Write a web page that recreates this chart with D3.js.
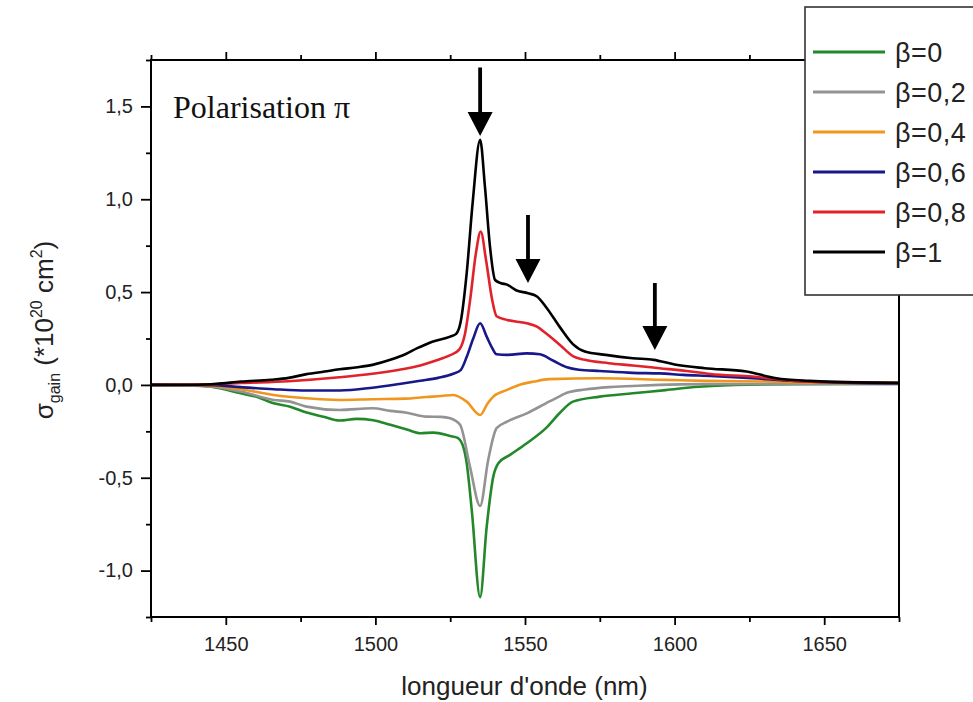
<!DOCTYPE html>
<html>
<head>
<meta charset="utf-8">
<script src="https://cdn.jsdelivr.net/npm/d3@7"></script>
<style>
  html, body { margin: 0; padding: 0; background: #fff; }
  svg { display: block; }
  .sans { font-family: "Liberation Sans", Arial, sans-serif; }
  .serif { font-family: "Liberation Serif", "Times New Roman", serif; }
</style>
</head>
<body>
<svg id="chart" class="sans" width="973" height="702"></svg>
<script>
// ---------- DATA ----------
const xMajorTicks = [1450, 1500, 1550, 1600, 1650];
const xMinorTicks = [1425, 1475, 1525, 1575, 1625, 1675];
const yMajorTicks = [-1.0, -0.5, 0.0, 0.5, 1.0, 1.5];
const yMinorTicks = [-1.25, -0.75, -0.25, 0.25, 0.75, 1.25, 1.75];

const seriesLabels = ["β=0", "β=0,2", "β=0,4", "β=0,6", "β=0,8", "β=1"];
const seriesColors = ["#23882a", "#939393", "#f0961e", "#18188a", "#e2222a", "#000000"];

// [wavelength (nm), sigma_gain (1e-20 cm^2)]
const beta0 = [[1425,0],[1440,-0.003],[1447,-0.015],[1455,-0.045],[1460,-0.063],[1466,-0.099],[1471.5,-0.117],[1477,-0.149],[1482.6,-0.171],[1488,-0.192],[1493.7,-0.183],[1499.3,-0.19],[1505,-0.215],[1510.5,-0.24],[1515,-0.26],[1519.4,-0.257],[1525,-0.275],[1527.5,-0.285],[1529.5,-0.34],[1530.5,-0.42],[1532.2,-0.673],[1535,-1.143],[1537.2,-0.763],[1539.4,-0.494],[1541.1,-0.422],[1545,-0.377],[1550.6,-0.314],[1557,-0.233],[1561.7,-0.15],[1566,-0.09],[1575,-0.063],[1586,-0.045],[1597,-0.028],[1608,-0.01],[1620,0],[1640,0.004],[1675,0.005]];
const beta02 = [[1425,0],[1445,-0.008],[1455,-0.036],[1466,-0.081],[1471.5,-0.09],[1477,-0.117],[1488,-0.135],[1499,-0.126],[1505,-0.14],[1510.5,-0.15],[1517,-0.171],[1522,-0.172],[1525,-0.18],[1528.3,-0.215],[1531.6,-0.44],[1535,-0.652],[1537.7,-0.404],[1540.5,-0.233],[1544,-0.198],[1550.6,-0.153],[1557,-0.099],[1561.7,-0.06],[1564,-0.042],[1570,-0.025],[1578,-0.012],[1586,-0.006],[1595,0],[1610,0.004],[1640,0.005],[1675,0.005]];
const beta04 = [[1425,0],[1445,-0.005],[1455,-0.023],[1466,-0.054],[1477,-0.072],[1488,-0.081],[1499,-0.077],[1510,-0.074],[1517,-0.065],[1522,-0.06],[1526,-0.054],[1530.5,-0.09],[1535,-0.162],[1537.5,-0.1],[1539.4,-0.063],[1544,-0.027],[1548,0],[1553,0.018],[1558,0.031],[1575,0.036],[1597,0.027],[1610,0.022],[1630,0.018],[1650,0.012],[1675,0.008]];
const beta06 = [[1425,0],[1445,-0.002],[1455,-0.012],[1466,-0.023],[1477,-0.03],[1488,-0.03],[1499,-0.015],[1508,0.005],[1515,0.022],[1521,0.038],[1526,0.06],[1528.5,0.08],[1530.5,0.15],[1532.7,0.25],[1535,0.332],[1537.2,0.26],[1539,0.2],[1540.5,0.165],[1544,0.162],[1550.6,0.17],[1555,0.165],[1559.5,0.13],[1564,0.095],[1568,0.082],[1575,0.075],[1586,0.065],[1595,0.062],[1603,0.054],[1612,0.048],[1626,0.036],[1640,0.022],[1656,0.012],[1675,0.008]];
const beta08 = [[1425,0],[1445,0.003],[1455,0.01],[1471,0.02],[1488,0.041],[1499,0.06],[1508,0.082],[1515,0.105],[1520,0.13],[1525,0.16],[1528,0.19],[1530,0.28],[1531.6,0.45],[1533.6,0.71],[1535.2,0.826],[1537,0.67],[1539,0.46],[1540.5,0.37],[1544,0.35],[1550.6,0.332],[1554,0.314],[1557,0.278],[1561.7,0.215],[1566,0.155],[1570,0.135],[1578,0.117],[1586,0.105],[1595,0.09],[1604,0.075],[1612,0.059],[1626,0.045],[1640,0.022],[1656,0.015],[1675,0.012]];
const beta1 = [[1425,0],[1440,0.001],[1447,0.006],[1455,0.018],[1465,0.028],[1471,0.038],[1477,0.058],[1483,0.072],[1488,0.084],[1494,0.095],[1499,0.108],[1505,0.135],[1510,0.165],[1514,0.198],[1519,0.233],[1525,0.26],[1527,0.275],[1528.5,0.34],[1530.5,0.6],[1532.5,0.98],[1535,1.32],[1536.6,1.07],[1538.3,0.745],[1540,0.565],[1542,0.548],[1544,0.54],[1547,0.51],[1551,0.494],[1554,0.476],[1557,0.42],[1561.7,0.31],[1566,0.22],[1570,0.18],[1577,0.162],[1586,0.144],[1593,0.135],[1600,0.11],[1610,0.09],[1624,0.072],[1634,0.036],[1645,0.022],[1656,0.015],[1675,0.012]];
const allSeries = [beta0, beta02, beta04, beta06, beta08, beta1];

// annotation arrows: wavelength, tail value, tip value
const arrowWavelengths = [1535, 1551, 1593.4];
const arrowTail = [1.71, 0.915, 0.549];
const arrowTip = [1.34, 0.549, 0.188];

const titleText = "Polarisation π";
const xTitle = "longueur d'onde (nm)";

// ---------- LAYOUT ----------
const svg = d3.select("#chart");
const plot = { left: 151, right: 899, top: 60, bottom: 617 };

const x = d3.scaleLinear().domain([1425, 1675]).range([plot.left, plot.right]);
const y = d3.scaleLinear().domain([-1.25, 1.75]).range([plot.bottom, plot.top]);

const fmtY = v => d3.format(".1f")(v).replace(".", ",").replace("−", "-");

// clip
svg.append("defs").append("clipPath").attr("id", "clip")
  .append("rect").attr("x", plot.left).attr("y", plot.top)
  .attr("width", plot.right - plot.left).attr("height", plot.bottom - plot.top);

// curves
const line = d3.line().x(d => x(d[0])).y(d => y(d[1])).curve(d3.curveMonotoneX);
const gCurves = svg.append("g").attr("clip-path", "url(#clip)");
allSeries.forEach((s, i) => {
  gCurves.append("path").datum(s)
    .attr("d", line)
    .attr("fill", "none")
    .attr("stroke", seriesColors[i])
    .attr("stroke-width", 2.6)
    .attr("stroke-linejoin", "round");
});

// axes
function styleAxis(g) {
  g.select(".domain").remove();
  g.attr("font-family", null);
  g.selectAll(".tick line").attr("stroke", "#000").attr("stroke-width", 1.8);
  g.selectAll("text").attr("font-size", 20).attr("fill", "#222");
}
svg.append("g").attr("transform", `translate(0,${plot.bottom})`)
  .call(d3.axisBottom(x).tickValues(xMajorTicks).tickSize(8).tickPadding(12).tickFormat(d3.format("d")))
  .call(styleAxis);
svg.append("g").attr("transform", `translate(0,${plot.bottom})`)
  .call(d3.axisBottom(x).tickValues(xMinorTicks).tickSize(5).tickFormat(""))
  .call(styleAxis);
svg.append("g").attr("transform", `translate(0,${plot.top})`)
  .call(d3.axisTop(x).tickValues(xMajorTicks).tickSize(8).tickFormat(""))
  .call(styleAxis);
svg.append("g").attr("transform", `translate(0,${plot.top})`)
  .call(d3.axisTop(x).tickValues(xMinorTicks).tickSize(5).tickFormat(""))
  .call(styleAxis);
svg.append("g").attr("transform", `translate(${plot.left},0)`)
  .call(d3.axisLeft(y).tickValues(yMajorTicks).tickSize(10).tickPadding(8).tickFormat(fmtY))
  .call(styleAxis);
svg.append("g").attr("transform", `translate(${plot.left},0)`)
  .call(d3.axisLeft(y).tickValues(yMinorTicks).tickSize(5).tickFormat(""))
  .call(styleAxis);

// frame
svg.append("rect").attr("x", plot.left).attr("y", plot.top)
  .attr("width", plot.right - plot.left).attr("height", plot.bottom - plot.top)
  .attr("fill", "none").attr("stroke", "#000").attr("stroke-width", 2);

// arrows
arrowWavelengths.forEach((w, i) => {
  const ax = x(w), yt = y(arrowTail[i]), yp = y(arrowTip[i]);
  const headLen = 24, headHalf = 12.5, shaftHalf = 1.9;
  const p = d3.path();
  p.moveTo(ax - shaftHalf, yt);
  p.lineTo(ax + shaftHalf, yt);
  p.lineTo(ax + shaftHalf, yp - headLen);
  p.lineTo(ax + headHalf, yp - headLen);
  p.lineTo(ax, yp);
  p.lineTo(ax - headHalf, yp - headLen);
  p.lineTo(ax - shaftHalf, yp - headLen);
  p.closePath();
  svg.append("path").attr("d", p.toString()).attr("fill", "#000");
});

// title in plot
svg.append("text").attr("class", "serif").attr("x", 173).attr("y", 118)
  .attr("font-size", 32).attr("fill", "#111").text(titleText);

// x title
svg.append("text").attr("x", (398 + 651) / 2).attr("y", 695)
  .attr("text-anchor", "middle").attr("font-size", 26).attr("fill", "#222").text(xTitle);

// y title
const yt = svg.append("text").attr("transform", "translate(53,330) rotate(-90)")
  .attr("text-anchor", "middle").attr("font-size", 26).attr("fill", "#222");
yt.append("tspan").text("σ");
yt.append("tspan").attr("font-size", 16).attr("dy", 7).text("gain");
yt.append("tspan").attr("dy", -7).text(" (*10");
yt.append("tspan").attr("font-size", 16).attr("dy", -11).text("20");
yt.append("tspan").attr("dy", 11).text(" cm");
yt.append("tspan").attr("font-size", 16).attr("dy", -11).text("2");
yt.append("tspan").attr("dy", 11).text(")");

// legend
const lg = svg.append("g");
lg.append("rect").attr("x", 805).attr("y", 7).attr("width", 200).attr("height", 288)
  .attr("fill", "#fff").attr("stroke", "#333").attr("stroke-width", 1.6);
seriesLabels.forEach((lab, i) => {
  const ly = 52 + i * 40;
  lg.append("line").attr("x1", 813).attr("x2", 885).attr("y1", ly).attr("y2", ly)
    .attr("stroke", seriesColors[i]).attr("stroke-width", 3);
  lg.append("text").attr("x", 895).attr("y", ly).attr("dy", "0.36em")
    .attr("font-size", 27).attr("letter-spacing", 0.5).attr("fill", "#222").text(lab);
});
</script>
</body>
</html>
